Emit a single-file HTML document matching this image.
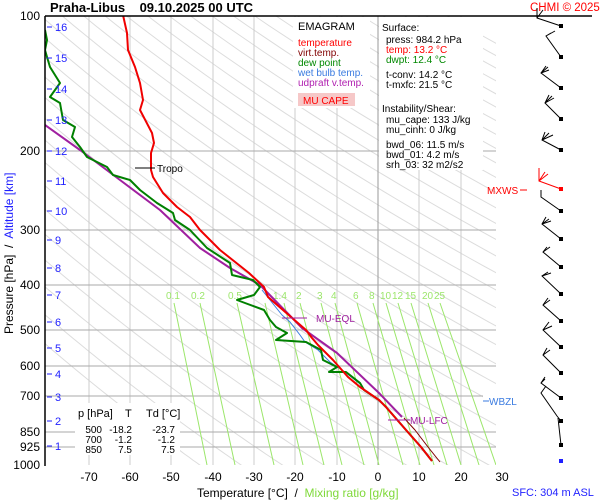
<!DOCTYPE html>
<html><head><meta charset="utf-8"><style>
body{margin:0;background:#fff;}
svg{display:block;font-family:"Liberation Sans",sans-serif;}
text{white-space:pre;}
</style></head><body>
<svg width="600" height="500" viewBox="0 0 600 500" xmlns="http://www.w3.org/2000/svg">
<defs><clipPath id="pc"><rect x="45" y="16" width="451" height="449"/></clipPath></defs>
<rect width="600" height="500" fill="#fff"/>
<g clip-path="url(#pc)" stroke="#dcdcdc" stroke-width="1" fill="none">
<g id="dry"></g>
<path stroke="#ccc" d="M89 16V465M130 16V465M171 16V465M213 16V465M254 16V465M295 16V465M337 16V465M419 16V465M461 16V465"/>
<path stroke="#999" d="M378 16V465"/>
<path stroke="#aaa" d="M45 151H496M45 230H496M45 285H496M45 330H496M45 366H496M45 396H496M45 432H496M45 447H496"/>
<g stroke="#9be66a">
<path d="M174 303L207 465M200 303L235 465M237 303L274 465M265 303L303 465M284 303L324 465M300 303L342 465M321 303L364 465M335 303L379 465M357 303L403 465M373 303L420 465M386 303L434 465M398 303L447 465M411 303L461 465M428 303L479 465M440 303L496 465"/>
</g>
</g>
<script>
(function(){var g=document.getElementById('dry');var ps=[];for(var p=90;p<=1010;p+=15)ps.push(p);
for(var th=230;th<=560;th+=10){var d='';ps.forEach(function(p,i){var T=th*Math.pow(p/1000,0.286)-273.15;var x=378+4.13*T;var y=16+449*Math.log10(p/100);d+=(i?'L':'M')+x.toFixed(1)+' '+y.toFixed(1);});
var e=document.createElementNS('http://www.w3.org/2000/svg','path');e.setAttribute('d',d);g.appendChild(e);}})();
</script>
<g font-size="10" fill="#9be66a">
<text x="166" y="299">0.1</text><text x="191" y="299">0.2</text><text x="228" y="299">0.5</text><text x="273" y="299">1.4</text><text x="296" y="299">2</text><text x="317" y="299">3</text><text x="331" y="299">4</text><text x="353" y="299">6</text><text x="369" y="299">8</text><text x="380" y="299">10</text><text x="392" y="299">12</text><text x="405" y="299">15</text><text x="422" y="299">20</text><text x="434" y="299">25</text>
</g>
<rect x="293" y="17" width="77" height="91" fill="#fff"/>
<rect x="379" y="17" width="104" height="153" fill="#fff"/>
<rect x="75" y="403" width="105" height="52" fill="#fff"/>
<rect x="483" y="393" width="40" height="15" fill="#fff"/>
<g fill="none" clip-path="url(#pc)" stroke-linejoin="round">
<path stroke="#800000" stroke-width="1" d="M404 418L415 430L428 447L440 462"/>
<path stroke="#3a7be0" stroke-width="1" d="M262 290L270 300L282 315L290 322L300 335L305 342L318 350L330 362L345 372L360 384"/>
<path stroke="#a020a0" stroke-width="2" d="M45 125L80 150L120 180L160 210L200 248L230 268L260 285L302 328L337 353L379 393L402 417"/>
<path stroke="#008000" stroke-width="2" d="M45 30L47 40L45 50L47 57L50 67L55 75L60 83L55 90L50 97L60 103L63 120L75 127L72 137L80 147L87 157L107 167L113 175L130 180L140 190L157 203L173 213L175 220L190 230L207 248L230 263L232 275L253 280L260 287L254 295L237 300L245 303L264 310L270 320L276 327L287 333L276 340L306 342L321 350L323 360L337 367L329 372L346 372L360 383L364 390L379 400L386 407L406 430L421 447L432 461"/>
<path stroke="#f00000" stroke-width="2" d="M123 15L127 33L128 50L135 67L140 83L143 100L140 110L152 133L154 143L151 153L151 170L153 177L163 193L177 207L190 217L200 230L220 250L249 273L264 287L268 297L291 317L306 330L312 338L318 345L333 360L348 377L360 387L379 400L386 407L406 430L421 447L432 461"/>
</g>
<path stroke="#000" stroke-width="1.5" d="M45 16H592M45 16V466"/>
<g font-size="12" text-anchor="end" fill="#000">
<text x="40" y="20">100</text><text x="40" y="155">200</text><text x="40" y="234">300</text><text x="40" y="289">400</text><text x="40" y="334">500</text><text x="40" y="370">600</text><text x="40" y="400">700</text><text x="40" y="436">850</text><text x="40" y="451">925</text><text x="40" y="469">1000</text>
</g>
<g font-size="11" fill="#1f1fff" stroke="#1f1fff">
<path d="M47 27h5M47 58h5M47 89h5M47 120h5M47 151h5M47 181h5M47 211h5M47 240h5M47 268h5M47 295h5M47 322h5M47 348h5M47 374h5M47 397h5M47 421h5M47 446h5"/>
<g stroke="none"><text x="55" y="31">16</text><text x="55" y="62">15</text><text x="55" y="93">14</text><text x="55" y="124">13</text><text x="55" y="155">12</text><text x="55" y="185">11</text><text x="55" y="215">10</text><text x="55" y="244">9</text><text x="55" y="272">8</text><text x="55" y="299">7</text><text x="55" y="326">6</text><text x="55" y="352">5</text><text x="55" y="378">4</text><text x="55" y="401">3</text><text x="55" y="425">2</text><text x="55" y="450">1</text></g>
</g>
<g font-size="12" text-anchor="middle">
<text x="89" y="481">-70</text><text x="130" y="481">-60</text><text x="171" y="481">-50</text><text x="213" y="481">-40</text><text x="254" y="481">-30</text><text x="295" y="481">-20</text><text x="337" y="481">-10</text><text x="378" y="481">0</text><text x="419" y="481">10</text><text x="461" y="481">20</text><text x="502" y="481">30</text>
</g>
<text x="197" y="497" font-size="12">Temperature [°C]  /  <tspan fill="#7fd93a">Mixing ratio [g/kg]</tspan></text>
<text x="512" y="496" font-size="11" fill="#1f1fff">SFC: 304 m ASL</text>
<text transform="translate(13,334) rotate(-90)" font-size="12">Pressure [hPa]  /  <tspan fill="#1f1fff">Altitude [km]</tspan></text>
<text x="50" y="12" font-size="13" font-weight="bold">Praha-Libus    09.10.2025 00 UTC</text>
<text x="530" y="11" font-size="11.5" fill="#f00">CHMI © 2025</text>
<g font-size="10">
<text x="298" y="30" font-size="11">EMAGRAM</text>
<text x="298" y="46" fill="#f00">temperature</text>
<text x="298" y="56" fill="#800000">virt.temp.</text>
<text x="298" y="66" fill="#080">dew point</text>
<text x="298" y="76" fill="#3a7be0">wet bulb temp.</text>
<text x="298" y="86" fill="#b020b0">udpraft v.temp.</text>
<rect x="298" y="93" width="57" height="13" fill="#f6c8c8"/>
<text x="303" y="104" fill="#f00">MU CAPE</text>
<text x="382" y="31">Surface:</text>
<text x="386" y="43">press: 984.2 hPa</text>
<text x="386" y="53" fill="#f00">temp: 13.2 °C</text>
<text x="386" y="63" fill="#080">dwpt: 12.4 °C</text>
<text x="386" y="78">t-conv: 14.2 °C</text>
<text x="386" y="88">t-mxfc: 21.5 °C</text>
<text x="382" y="112">Instability/Shear:</text>
<text x="386" y="123">mu_cape: 133 J/kg</text>
<text x="386" y="133">mu_cinh: 0 J/kg</text>
<text x="386" y="148">bwd_06: 11.5 m/s</text>
<text x="386" y="158">bwd_01: 4.2 m/s</text>
<text x="386" y="168">srh_03: 32 m2/s2</text>
<text x="78" y="417" font-size="11">p [hPa]</text><text x="125" y="417" font-size="11">T</text><text x="146" y="417" font-size="11">Td [°C]</text>
<g text-anchor="end"><text x="102" y="433">500</text><text x="132" y="433">-18.2</text><text x="175" y="433">-23.7</text>
<text x="102" y="443">700</text><text x="132" y="443">-1.2</text><text x="175" y="443">-1.2</text>
<text x="102" y="453">850</text><text x="132" y="453">7.5</text><text x="175" y="453">7.5</text></g>
</g>
<path stroke="#000" d="M135 168H155"/><text x="157" y="172" font-size="10">Tropo</text>
<path stroke="#a020a0" d="M282 318H307M388 420H410"/>
<text x="316" y="322" font-size="10" fill="#a020a0">MU-EQL</text>
<text x="410" y="424" font-size="10" fill="#a020a0">MU-LFC</text>
<path stroke="#3a7be0" d="M483 401H489"/><text x="489" y="405" font-size="10" fill="#3a7be0">WBZL</text>
<text x="487" y="194" font-size="10" fill="#f00">MXWS</text><path stroke="#f00" d="M520 190H527"/>
<g stroke="#000" fill="none">
<path d="M561 26L537 18L537 8M537 18L543 10M561 57L546 36L551 33M546 36L555 31M561 88L541 73L548 67M541 73L549 70M541 73L546 66M561 119L545 103L552 96M545 103L554 98M545 103L549 95M561 150L542 140L545 132M542 140L549 133M542 140L553 135M561 211L541 197L541 190M561 239L542 224L546 217M542 224L549 219M542 224L551 221M561 267L543 252L547 247M543 252L550 247M561 294L542 276L548 272M542 276L551 273M561 321L543 305L548 298M543 305L550 300M561 347L543 330L549 322M543 330L552 326M561 373L543 355L547 348M543 355L550 350M561 398L541 383L545 377M541 383L545 379M561 421L557 416L541 393L546 386M561 445L558 418"/>
<path stroke="#f00" d="M561 189L539 181L539 168M539 181L545 172M539 181L548 174"/>
</g>
<g fill="#000"><rect x="559" y="24" width="4" height="4"/><rect x="559" y="55" width="4" height="4"/><rect x="559" y="86" width="4" height="4"/><rect x="559" y="117" width="4" height="4"/><rect x="559" y="148" width="4" height="4"/><rect x="559" y="209" width="4" height="4"/><rect x="559" y="237" width="4" height="4"/><rect x="559" y="265" width="4" height="4"/><rect x="559" y="292" width="4" height="4"/><rect x="559" y="319" width="4" height="4"/><rect x="559" y="345" width="4" height="4"/><rect x="559" y="371" width="4" height="4"/><rect x="559" y="396" width="4" height="4"/><rect x="559" y="419" width="4" height="4"/><rect x="559" y="443" width="4" height="4"/></g>
<rect x="559" y="187" width="4" height="4" fill="#f00"/>
<rect x="559" y="459" width="4" height="4" fill="#1f1fff"/>
</svg>
</body></html>
